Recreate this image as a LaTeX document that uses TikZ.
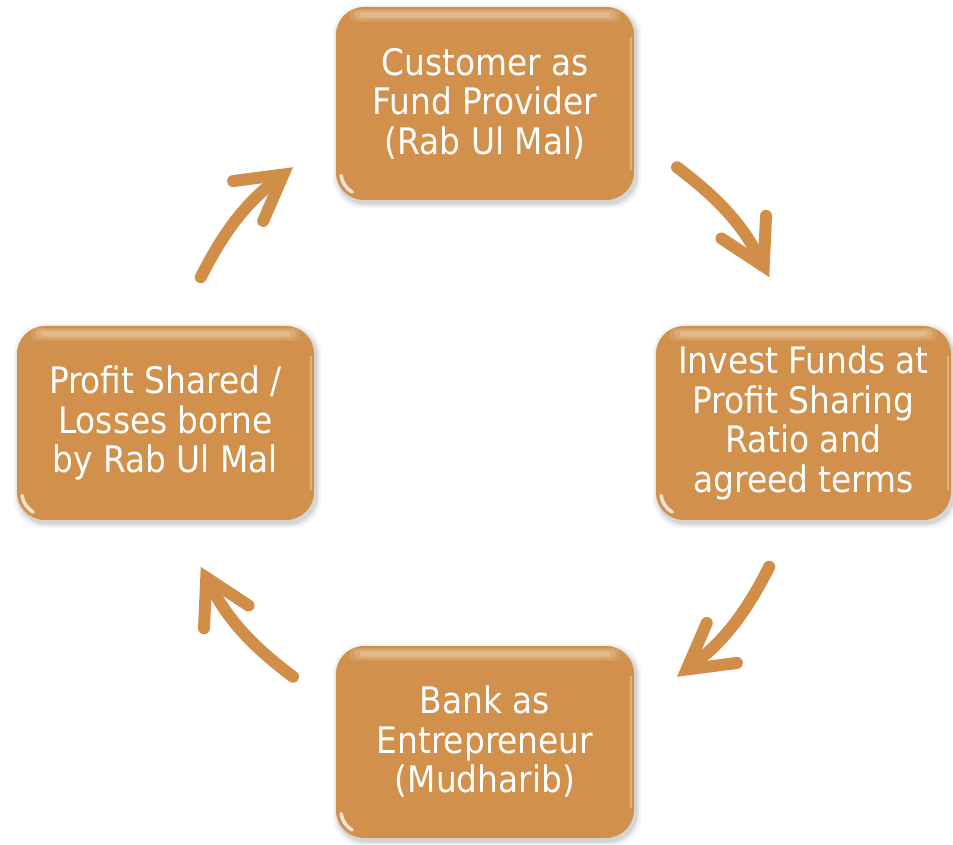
\documentclass[tikz,border=0pt]{standalone}
\usepackage{fontspec}
\setmainfont{DejaVu Sans Condensed}
\usetikzlibrary{arrows.meta,calc}
\pgfdeclarelayer{background}
\pgfsetlayers{background,main}

\definecolor{boxfill}{HTML}{D1904B}
\definecolor{flowcol}{HTML}{D08E48}

\tikzset{
  stage/.style={rounded corners=28pt, fill=boxfill, text=white, align=center,
    font=\fontsize{36.5}{39.5}\selectfont, inner sep=0pt},
  flow/.style={draw=flowcol, line width=12pt, line cap=round,
    -{Straight Barb[length=44pt, width=50pt, line cap=round]}},
}

\begin{document}
\begin{tikzpicture}[x=1pt,y=1pt]
  \useasboundingbox (0,0) rectangle (953,844);

  % the four stages of the cycle
  \node[stage, minimum width=298pt, minimum height=193pt] (prov) at (485,740.5)
    {Customer as\\Fund Provider\\(Rab Ul Mal)};
  \node[stage, minimum width=295pt, minimum height=194pt] (inv) at (803.5,421)
    {Invest Funds at\\Profit Sharing\\Ratio and\\agreed terms};
  \node[stage, minimum width=298pt, minimum height=192pt] (bank) at (485,102)
    {Bank as\\Entrepreneur\\(Mudharib)};
  \node[stage, minimum width=297pt, minimum height=194pt] (share) at (165.5,421)
    {Profit Shared /\\Losses borne\\by Rab Ul Mal};

  % soft drop shadows and glossy highlights
  \foreach \n in {prov,inv,bank,share}{
    \begin{pgfonlayer}{background}
      \foreach \g/\o in {5/0.04,3/0.06,1.5/0.08}{
        \fill[black, opacity=\o, rounded corners=30pt]
          ($(\n.south west)+(2-\g,-3-\g)$) rectangle ($(\n.north east)+(2+\g,-3+\g)$);
      }
    \end{pgfonlayer}
    \fill[white, opacity=0.12, rounded corners=6pt]
      ($(\n.north west)+(14,-2)$) rectangle ($(\n.north east)+(-14,-15)$);
    \fill[white, opacity=0.15, rounded corners=5pt]
      ($(\n.north west)+(18,-3.5)$) rectangle ($(\n.north east)+(-18,-12.5)$);
    \fill[white, opacity=0.18, rounded corners=3pt]
      ($(\n.north west)+(24,-5.5)$) rectangle ($(\n.north east)+(-24,-10.5)$);
    \draw[white, opacity=0.3, line width=1.5pt]
      ($(\n.north east)+(-3,-30)$) -- ($(\n.south east)+(-3,30)$);
    \draw[white, opacity=0.75, line width=3.5pt, line cap=round]
      ($(\n.south west)+(28,28)$) ++(188:23) arc[start angle=188, end angle=240, radius=23];
  }

  % connectors around the cycle
  \coordinate (hub) at (485,422);
  \path (hub) ++(53:319)   coordinate (f1a)  (hub) ++(27:319)   coordinate (f1b);
  \path (hub) ++(-27:319)  coordinate (f2a)  (hub) ++(-53:319)  coordinate (f2b);
  \path (hub) ++(-127:319) coordinate (f3a)  (hub) ++(-153:319) coordinate (f3b);
  \path (hub) ++(153:319)  coordinate (f4a)  (hub) ++(127:319)  coordinate (f4b);

  \draw[flow] (f1a) to[bend left=13] (f1b);
  \draw[flow] (f2a) to[bend left=13] (f2b);
  \draw[flow] (f3a) to[bend left=13] (f3b);
  \draw[flow] (f4a) to[bend left=13] (f4b);
\end{tikzpicture}
\end{document}
